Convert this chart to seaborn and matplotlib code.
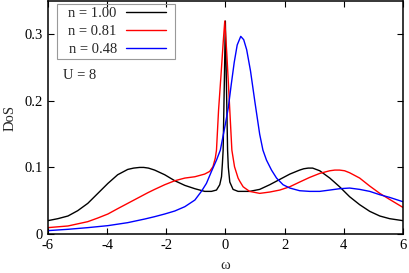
import numpy as np
import pandas as pd
import matplotlib
matplotlib.use("Agg")
import matplotlib.pyplot as plt
from matplotlib.patches import Rectangle
import seaborn as sns

# values
w_black = [-6.0, -5.66, -5.32, -4.99, -4.65, -4.31, -3.97, -3.64, -3.30, -3.10, -2.90,
           -2.76, -2.60, -2.39, -2.05, -1.71, -1.37, -1.03, -0.70, -0.47, -0.30, -0.19,
           -0.13, -0.10, -0.075, -0.03, 0.0, 0.03, 0.075, 0.10, 0.15, 0.26, 0.43, 0.66,
           0.82, 1.16, 1.5, 1.84, 2.18, 2.51, 2.65, 2.80, 2.95, 3.19, 3.53, 3.86, 4.2,
           4.54, 4.88, 5.22, 5.55, 6.0]
dos_black = [0.020, 0.023, 0.027, 0.035, 0.046, 0.061, 0.076, 0.089, 0.097, 0.099, 0.100,
             0.100, 0.099, 0.096, 0.089, 0.080, 0.073, 0.068, 0.064, 0.064, 0.066, 0.074,
             0.086, 0.106, 0.126, 0.24, 0.32, 0.24, 0.126, 0.100, 0.078, 0.067, 0.064, 0.064,
             0.064, 0.067, 0.074, 0.082, 0.090, 0.096, 0.098, 0.099, 0.099, 0.095, 0.084,
             0.071, 0.056, 0.044, 0.034, 0.027, 0.023, 0.020]

w_red = [-6.0, -5.32, -4.65, -4.31, -3.97, -3.64, -3.30, -2.96, -2.62, -2.39, -2.05,
         -1.71, -1.37, -1.03, -0.70, -0.53, -0.42, -0.34, -0.30, -0.23, -0.15, -0.07,
         -0.02, 0.05, 0.15, 0.22, 0.31, 0.43, 0.49, 0.60, 0.66, 0.82, 1.16, 1.5, 1.84,
         2.18, 2.51, 2.85, 3.19, 3.53, 3.70, 3.86, 4.03, 4.2, 4.54, 4.88, 5.22, 5.55, 6.0]
dos_red = [0.0095, 0.012, 0.0185, 0.024, 0.030, 0.038, 0.046, 0.054, 0.062, 0.067, 0.074,
           0.080, 0.084, 0.086, 0.090, 0.094, 0.101, 0.114, 0.126, 0.186, 0.237, 0.29,
           0.32, 0.27, 0.186, 0.126, 0.101, 0.084, 0.079, 0.071, 0.069, 0.064, 0.061, 0.063, 0.066,
           0.071, 0.078, 0.085, 0.091, 0.095, 0.096, 0.096, 0.095, 0.092, 0.084, 0.072, 0.061,
           0.052, 0.040]

w_blue = [-6.0, -5.32, -4.65, -3.97, -3.30, -2.72, -2.39, -2.05, -1.71, -1.37, -1.03,
          -0.81, -0.64, -0.47, -0.30, -0.17, 0.0, 0.1, 0.2, 0.3, 0.4, 0.52, 0.62, 0.72,
          0.85, 1.0, 1.16, 1.27, 1.39, 1.56, 1.73, 1.95, 2.18, 2.51, 2.85, 3.19, 3.53,
          3.86, 4.2, 4.54, 4.88, 5.22, 5.55, 6.0]
dos_blue = [0.005, 0.007, 0.0095, 0.0125, 0.017, 0.0225, 0.026, 0.030, 0.0345, 0.041, 0.051,
            0.064, 0.076, 0.094, 0.111, 0.126, 0.165, 0.19, 0.225, 0.258, 0.284, 0.297, 0.292, 0.277,
            0.245, 0.198, 0.15, 0.126, 0.111, 0.096, 0.084, 0.074, 0.069, 0.065, 0.064, 0.064, 0.066,
            0.068, 0.069, 0.067, 0.064, 0.059, 0.055, 0.0485]

labels = ["n = 1.00", "n = 0.81", "n = 0.48"]
colors = ["black", "red", "blue"]

frames = []
for lab, w, d in zip(labels, [w_black, w_red, w_blue], [dos_black, dos_red, dos_blue]):
    frames.append(pd.DataFrame({"w": w, "dos": d, "n": lab}))
df = pd.concat(frames, ignore_index=True)

sns.set_style("ticks")
plt.rcParams["font.family"] = ["Liberation Serif", "DejaVu Serif"]
plt.rcParams["axes.unicode_minus"] = False

fig = plt.figure(figsize=(4.09, 2.73), dpi=100)
ax = fig.add_axes([0.117, 0.143, 0.868, 0.853])

sns.lineplot(data=df, x="w", y="dos", hue="n", palette=dict(zip(labels, colors)),
             sort=False, estimator=None, linewidth=1.0, ax=ax)

ax.set_xlim(-6, 6)
ax.set_ylim(0, 0.35)
ax.set_xticks([-6, -4, -2, 0, 2, 4, 6])
ax.set_xticklabels(["-6", "-4", "-2", "0", "2", "4", "6"])
ax.set_yticks([0, 0.1, 0.2, 0.3])
ax.set_yticklabels(["0", "0.1", "0.2", "0.3"])
ax.tick_params(direction="in", top=True, right=True, length=4, width=0.8,
               labelsize=10.5, colors="black")
for s in ax.spines.values():
    s.set_visible(True)
    s.set_linewidth(1.1)
    s.set_color("black")

ax.set_xlabel("ω", fontsize=10.5, labelpad=5)
ax.set_ylabel("DoS", fontsize=10.5, labelpad=6)

leg = ax.legend(loc="upper left", bbox_to_anchor=(0.058, 0.975), borderaxespad=0,
                markerfirst=False, fontsize=10.5, handlelength=2.8, labelspacing=0.32,
                frameon=False, borderpad=0, handletextpad=0.6)
ax.add_patch(Rectangle((0.0254, 0.751), 0.3326, 0.236, transform=ax.transAxes,
                       fill=False, edgecolor="#999999", linewidth=0.8, zorder=5))

ax.text(0.042, 0.682, "U = 8", transform=ax.transAxes, fontsize=10.5, va="center")

fig.savefig("out.png", dpi=100)
